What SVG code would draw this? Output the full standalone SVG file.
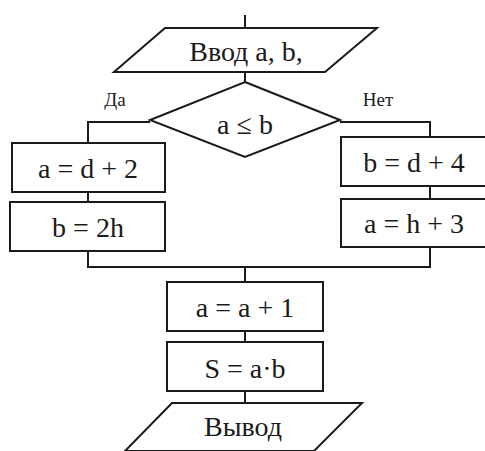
<svg xmlns="http://www.w3.org/2000/svg" width="485" height="451" viewBox="0 0 485 451">
<style>
.s{fill:#fff;stroke:#1a1a1a;stroke-width:2}
.c{fill:none;stroke:#1a1a1a;stroke-width:2}
.t{font-family:"Liberation Serif","Times New Roman",serif;font-size:28px;fill:#1a1a1a;text-anchor:middle}
.l{font-family:"Liberation Serif","Times New Roman",serif;font-size:19px;fill:#1a1a1a;text-anchor:middle}
</style>
<rect width="485" height="451" fill="#fff"/>
<g id="connectors">
<path class="c" d="M245 15V28"/>
<path class="c" d="M245 72V82"/>
<path class="c" d="M150 122H88V143"/>
<path class="c" d="M340 122H430V137"/>
<path class="c" d="M88 192V202"/>
<path class="c" d="M430 186V199"/>
<path class="c" d="M88 251V267H430V247"/>
<path class="c" d="M245 267V282"/>
<path class="c" d="M245 331V342"/>
<path class="c" d="M245 391V403"/>
</g>
<g id="input">
<polygon class="s" points="165,28 377,28 325,72 114,72"/>
<text class="t" x="246" y="61">Ввод a, b,</text>
</g>
<g id="decision">
<polygon class="s" points="245,82 340,120 245,157 150,120"/>
<text class="t" x="245" y="134">a ≤ b</text>
</g>
<g id="label-yes"><text class="l" x="115" y="106">Да</text></g>
<g id="label-no"><text class="l" x="378" y="106">Нет</text></g>
<g id="left1">
<rect class="s" x="12" y="143" width="153" height="49"/>
<text class="t" x="88" y="178">a = d + 2</text>
</g>
<g id="left2">
<rect class="s" x="10" y="202" width="155" height="49"/>
<text class="t" x="88" y="237">b = 2h</text>
</g>
<g id="right1">
<rect class="s" x="341" y="137" width="150" height="49"/>
<text class="t" x="414" y="172">b = d + 4</text>
</g>
<g id="right2">
<rect class="s" x="341" y="199" width="150" height="48"/>
<text class="t" x="414" y="233">a = h + 3</text>
</g>
<g id="inc">
<rect class="s" x="167" y="282" width="156" height="49"/>
<text class="t" x="245" y="317">a = a + 1</text>
</g>
<g id="prod">
<rect class="s" x="167" y="342" width="156" height="49"/>
<text class="t" x="245" y="378">S = a·b</text>
</g>
<g id="output">
<polygon class="s" points="172,403 362,403 314,451 125,451"/>
<text class="t" x="243" y="436">Вывод</text>
</g>
</svg>
